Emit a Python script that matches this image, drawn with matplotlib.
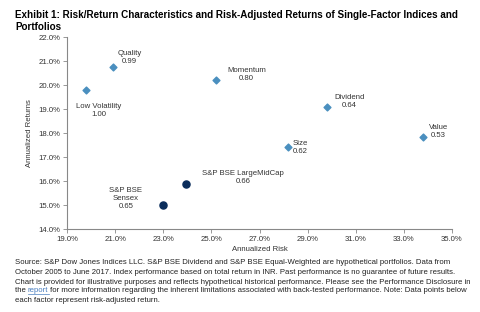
import matplotlib
matplotlib.use('Agg')
import matplotlib.pyplot as plt
from matplotlib.ticker import FuncFormatter

plt.rcParams['font.family'] = ['Liberation Sans', 'DejaVu Sans']

# factor indices (diamonds)
factors = ['Quality', 'Low Volatility', 'Momentum', 'Dividend', 'Value', 'Size']
factor_risk = [20.9, 19.8, 25.2, 29.8, 33.8, 28.2]
factor_ret = [20.75, 19.8, 20.2, 19.07, 17.82, 17.4]
factor_ratio = ['0.99', '1.00', '0.80', '0.64', '0.53', '0.62']

# benchmarks (circles)
benches = ['S&P BSE LargeMidCap', 'S&P BSE\nSensex']
bench_risk = [23.95, 23.0]
bench_ret = [15.87, 14.99]
bench_ratio = ['0.66', '0.65']

xticks = [19, 21, 23, 25, 27, 29, 31, 33, 35]
yticks = [14, 15, 16, 17, 18, 19, 20, 21, 22]

title = ('Exhibit 1: Risk/Return Characteristics and Risk-Adjusted Returns of Single-Factor Indices and\n'
         'Portfolios')
notes = [
    'Source: S&P Dow Jones Indices LLC. S&P BSE Dividend and S&P BSE Equal-Weighted are hypothetical portfolios. Data from',
    'October 2005 to June 2017. Index performance based on total return in INR. Past performance is no guarantee of future results.',
    'Chart is provided for illustrative purposes and reflects hypothetical historical performance. Please see the Performance Disclosure in',
    None,
    'each factor represent risk-adjusted return.',
]

W, H = 481, 312
fig = plt.figure(figsize=(W / 100, H / 100), dpi=100)
ax = fig.add_axes([67 / W, 1 - 229 / H, (452 - 67) / W, (229 - 37) / H])

ax.scatter(factor_risk, factor_ret, marker='D', s=12, color='#4a8fbf', zorder=3)
ax.scatter(bench_risk, bench_ret, marker='o', s=26, color='#0b2d5b', zorder=3)

# label offsets in points (dx, dy, ha)
f_off = [(12, 7, 'center'), (9, -15, 'center'), (22, 4, 'center'),
         (16, 4, 'center'), (11, 4, 'center'), (3, 0, 'left')]
for name, x, y, r, (dx, dy, ha) in zip(factors, factor_risk, factor_ret, factor_ratio, f_off):
    ax.annotate(name + '\n' + r, (x, y), xytext=(dx, dy), textcoords='offset points',
                ha=ha, va='center', fontsize=5.6, color='#333333', linespacing=1.2,
                multialignment='center' if ha == 'center' else 'left')

b_off = [(41, 5), (-27, 5)]
for name, x, y, r, (dx, dy) in zip(benches, bench_risk, bench_ret, bench_ratio, b_off):
    ax.annotate(name + '\n' + r, (x, y), xytext=(dx, dy), textcoords='offset points',
                ha='center', va='center', fontsize=5.6, color='#333333', linespacing=1.2,
                multialignment='center')

ax.set_xlim(19, 35)
ax.set_ylim(14, 22)
ax.set_xticks(xticks)
ax.set_yticks(yticks)
pct = FuncFormatter(lambda v, p: '%.1f%%' % v)
ax.xaxis.set_major_formatter(pct)
ax.yaxis.set_major_formatter(pct)
for s in ['top', 'right']:
    ax.spines[s].set_visible(False)
for s in ['left', 'bottom']:
    ax.spines[s].set_color('#888888')
    ax.spines[s].set_linewidth(0.8)
ax.tick_params(labelsize=5.6, colors='#888888', labelcolor='#333333', length=3, width=0.6, pad=2)
ax.set_xlabel('Annualized Risk', fontsize=5.6, color='#333333', labelpad=2)
ax.set_ylabel('Annualized Returns', fontsize=5.6, color='#333333', labelpad=4)

fig.text(15 / W, 1 - 10 / H, title, fontsize=7.1, fontweight='bold', va='top', ha='left',
         linespacing=1.2)

fs = 5.6
ys = [263, 273, 282, 291, 301]
for t, y in zip(notes, ys):
    if t is not None:
        fig.text(15 / W, 1 - y / H, t, fontsize=fs, va='center', ha='left', color='#222222')

# line with the link
renderer = fig.canvas.get_renderer()
y4 = 1 - ys[3] / H
t1 = fig.text(15 / W, y4, 'the ', fontsize=fs, va='center', ha='left', color='#222222')
bb = t1.get_window_extent(renderer)
t2 = fig.text(bb.x1 / W, y4, 'report', fontsize=fs, va='center', ha='left', color='#4a7fc0')
bb2 = t2.get_window_extent(renderer)
fig.add_artist(plt.Line2D([bb2.x0 / W, bb2.x1 / W], [(bb2.y0 + 1) / H] * 2, color='#4a7fc0', lw=0.5))
fig.text(bb2.x1 / W, y4, ' for more information regarding the inherent limitations associated with back-tested performance. Note: Data points below',
         fontsize=fs, va='center', ha='left', color='#222222')

fig.savefig('out.png', dpi=100)
